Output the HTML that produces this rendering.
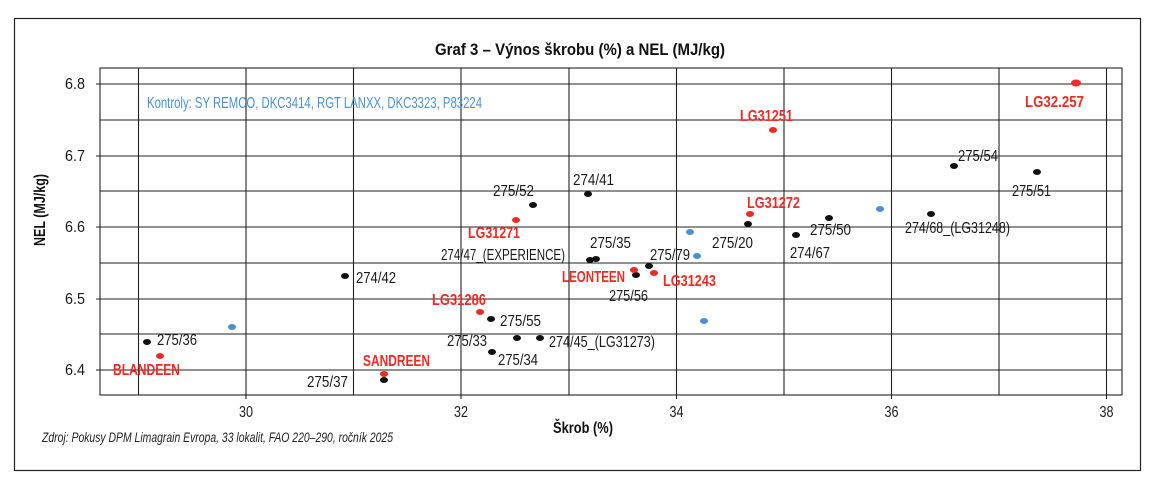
<!DOCTYPE html>
<html><head><meta charset="utf-8"><style>
html,body{margin:0;padding:0;background:#fff;}
svg{display:block;font-family:"Liberation Sans Narrow","Liberation Sans",sans-serif;}
.b{font-size:16px;fill:#1a1a1a;}
.r{font-size:16px;fill:#ee2a24;font-weight:bold;}
</style></head><body>
<svg width="1152" height="484" viewBox="0 0 1152 484" xmlns="http://www.w3.org/2000/svg">
<rect x="14.5" y="18.5" width="1126" height="452" fill="none" stroke="#222" stroke-width="1.2"/>
<text x="580" y="55" text-anchor="middle" font-weight="bold" font-size="17" textLength="290" lengthAdjust="spacingAndGlyphs" fill="#111">Graf 3 – Výnos škrobu (%) a NEL (MJ/kg)</text>
<g stroke="#222" stroke-width="1.1">
<rect x="100" y="68" width="1022" height="327" fill="none"/>
<line x1="96" y1="84" x2="1122" y2="84"/>
<line x1="100" y1="120" x2="1122" y2="120"/>
<line x1="96" y1="156" x2="1122" y2="156"/>
<line x1="100" y1="191" x2="1122" y2="191"/>
<line x1="96" y1="227" x2="1122" y2="227"/>
<line x1="100" y1="263" x2="1122" y2="263"/>
<line x1="96" y1="299" x2="1122" y2="299"/>
<line x1="100" y1="334" x2="1122" y2="334"/>
<line x1="96" y1="370" x2="1122" y2="370"/>
<line x1="138.5" y1="68" x2="138.5" y2="395"/>
<line x1="246" y1="68" x2="246" y2="399"/>
<line x1="353.5" y1="68" x2="353.5" y2="395"/>
<line x1="461" y1="68" x2="461" y2="399"/>
<line x1="569" y1="68" x2="569" y2="395"/>
<line x1="676.5" y1="68" x2="676.5" y2="399"/>
<line x1="784" y1="68" x2="784" y2="395"/>
<line x1="891.5" y1="68" x2="891.5" y2="399"/>
<line x1="999" y1="68" x2="999" y2="395"/>
<line x1="1106.5" y1="68" x2="1106.5" y2="399"/>
</g>
<g font-size="16" fill="#1a1a1a" text-anchor="end">
<text x="85" y="89" textLength="20" lengthAdjust="spacingAndGlyphs">6.8</text><text x="85" y="161" textLength="20" lengthAdjust="spacingAndGlyphs">6.7</text><text x="85" y="232" textLength="20" lengthAdjust="spacingAndGlyphs">6.6</text><text x="85" y="304" textLength="20" lengthAdjust="spacingAndGlyphs">6.5</text><text x="85" y="375" textLength="20" lengthAdjust="spacingAndGlyphs">6.4</text>
</g>
<g font-size="16" fill="#1a1a1a" text-anchor="middle">
<text x="246" y="417" textLength="14" lengthAdjust="spacingAndGlyphs">30</text><text x="461" y="417" textLength="14" lengthAdjust="spacingAndGlyphs">32</text><text x="676.5" y="417" textLength="14" lengthAdjust="spacingAndGlyphs">34</text><text x="891.5" y="417" textLength="14" lengthAdjust="spacingAndGlyphs">36</text><text x="1106.5" y="417" textLength="14" lengthAdjust="spacingAndGlyphs">38</text>
</g>
<text x="583" y="433" text-anchor="middle" font-weight="bold" font-size="16" textLength="60" lengthAdjust="spacingAndGlyphs" fill="#111">Škrob (%)</text>
<text transform="translate(45,210) rotate(-90)" text-anchor="middle" font-weight="bold" font-size="16" textLength="72" lengthAdjust="spacingAndGlyphs" fill="#111">NEL (MJ/kg)</text>
<text x="42" y="442" font-style="italic" font-size="14" textLength="351" lengthAdjust="spacingAndGlyphs" fill="#222">Zdroj: Pokusy DPM Limagrain Evropa, 33 lokalit, FAO 220–290, ročník 2025</text>
<text x="147" y="108" font-size="16" fill="#4a90d0" textLength="335" lengthAdjust="spacingAndGlyphs">Kontroly: SY REMCO, DKC3414, RGT LANXX, DKC3323, P83224</text>
<g fill="#111">
<ellipse cx="147" cy="342" rx="4" ry="3"/><ellipse cx="345" cy="276" rx="4" ry="3"/><ellipse cx="384" cy="380" rx="4" ry="3"/>
<ellipse cx="533" cy="205" rx="4" ry="3"/><ellipse cx="588" cy="194" rx="4" ry="3"/><ellipse cx="590" cy="260" rx="4" ry="3"/><ellipse cx="596" cy="259" rx="4" ry="3"/>
<ellipse cx="491" cy="319" rx="4" ry="3"/><ellipse cx="517" cy="338" rx="4" ry="3"/><ellipse cx="540" cy="338" rx="4" ry="3"/><ellipse cx="492" cy="352" rx="4" ry="3"/>
<ellipse cx="636" cy="275" rx="4" ry="3"/><ellipse cx="649" cy="266" rx="4" ry="3"/><ellipse cx="748" cy="224" rx="4" ry="3"/><ellipse cx="796" cy="235" rx="4" ry="3"/>
<ellipse cx="829" cy="218" rx="4" ry="3"/><ellipse cx="931" cy="214" rx="4" ry="3"/><ellipse cx="954" cy="166" rx="4" ry="3"/><ellipse cx="1037" cy="172" rx="4" ry="3"/>
</g>
<g fill="#ee2a24">
<ellipse cx="160" cy="356" rx="4" ry="3"/><ellipse cx="384" cy="374" rx="4" ry="3"/><ellipse cx="480" cy="312" rx="4" ry="3"/><ellipse cx="516" cy="220" rx="4" ry="3"/>
<ellipse cx="634" cy="270" rx="4" ry="3"/><ellipse cx="654" cy="273" rx="4" ry="3"/><ellipse cx="750" cy="214" rx="4" ry="3"/><ellipse cx="773" cy="130" rx="4" ry="3"/><ellipse cx="1076" cy="83" rx="5" ry="3.5"/>
</g>
<g fill="#4a90d0">
<ellipse cx="232" cy="327" rx="4" ry="3"/><ellipse cx="690" cy="232" rx="4" ry="3"/><ellipse cx="697" cy="256" rx="4" ry="3"/><ellipse cx="704" cy="321" rx="4" ry="3"/><ellipse cx="880" cy="209" rx="4" ry="3"/>
</g>
<g class="b">
<text x="157" y="345" textLength="40" lengthAdjust="spacingAndGlyphs">275/36</text>
<text x="356" y="283" textLength="40" lengthAdjust="spacingAndGlyphs">274/42</text>
<text x="307" y="387" textLength="41" lengthAdjust="spacingAndGlyphs">275/37</text>
<text x="493" y="196" textLength="41" lengthAdjust="spacingAndGlyphs">275/52</text>
<text x="573" y="185" textLength="41" lengthAdjust="spacingAndGlyphs">274/41</text>
<text x="441" y="260" textLength="124" lengthAdjust="spacingAndGlyphs">274/47_(EXPERIENCE)</text>
<text x="590" y="248" textLength="41" lengthAdjust="spacingAndGlyphs">275/35</text>
<text x="500" y="326" textLength="41" lengthAdjust="spacingAndGlyphs">275/55</text>
<text x="447" y="346" textLength="40" lengthAdjust="spacingAndGlyphs">275/33</text>
<text x="549" y="347" textLength="106" lengthAdjust="spacingAndGlyphs">274/45_(LG31273)</text>
<text x="498" y="365" textLength="40" lengthAdjust="spacingAndGlyphs">275/34</text>
<text x="609" y="301" textLength="39" lengthAdjust="spacingAndGlyphs">275/56</text>
<text x="650" y="260" textLength="40" lengthAdjust="spacingAndGlyphs">275/79</text>
<text x="712" y="248" textLength="41" lengthAdjust="spacingAndGlyphs">275/20</text>
<text x="790" y="258" textLength="40" lengthAdjust="spacingAndGlyphs">274/67</text>
<text x="810" y="235" textLength="41" lengthAdjust="spacingAndGlyphs">275/50</text>
<text x="905" y="233" textLength="105" lengthAdjust="spacingAndGlyphs">274/68_(LG31248)</text>
<text x="958" y="161" textLength="40" lengthAdjust="spacingAndGlyphs">275/54</text>
<text x="1012" y="196" textLength="39" lengthAdjust="spacingAndGlyphs">275/51</text>
</g>
<g class="r">
<text x="113" y="375" textLength="67" lengthAdjust="spacingAndGlyphs">BLANDEEN</text>
<text x="363" y="366" textLength="67" lengthAdjust="spacingAndGlyphs">SANDREEN</text>
<text x="432" y="305" textLength="54" lengthAdjust="spacingAndGlyphs">LG31286</text>
<text x="468" y="238" textLength="52" lengthAdjust="spacingAndGlyphs">LG31271</text>
<text x="562" y="282" textLength="63" lengthAdjust="spacingAndGlyphs">LEONTEEN</text>
<text x="663" y="286" textLength="53" lengthAdjust="spacingAndGlyphs">LG31243</text>
<text x="747" y="208" textLength="53" lengthAdjust="spacingAndGlyphs">LG31272</text>
<text x="740" y="121" textLength="53" lengthAdjust="spacingAndGlyphs">LG31251</text>
<text x="1025" y="107" textLength="59" lengthAdjust="spacingAndGlyphs">LG32.257</text>
</g>
</svg>
</body></html>
